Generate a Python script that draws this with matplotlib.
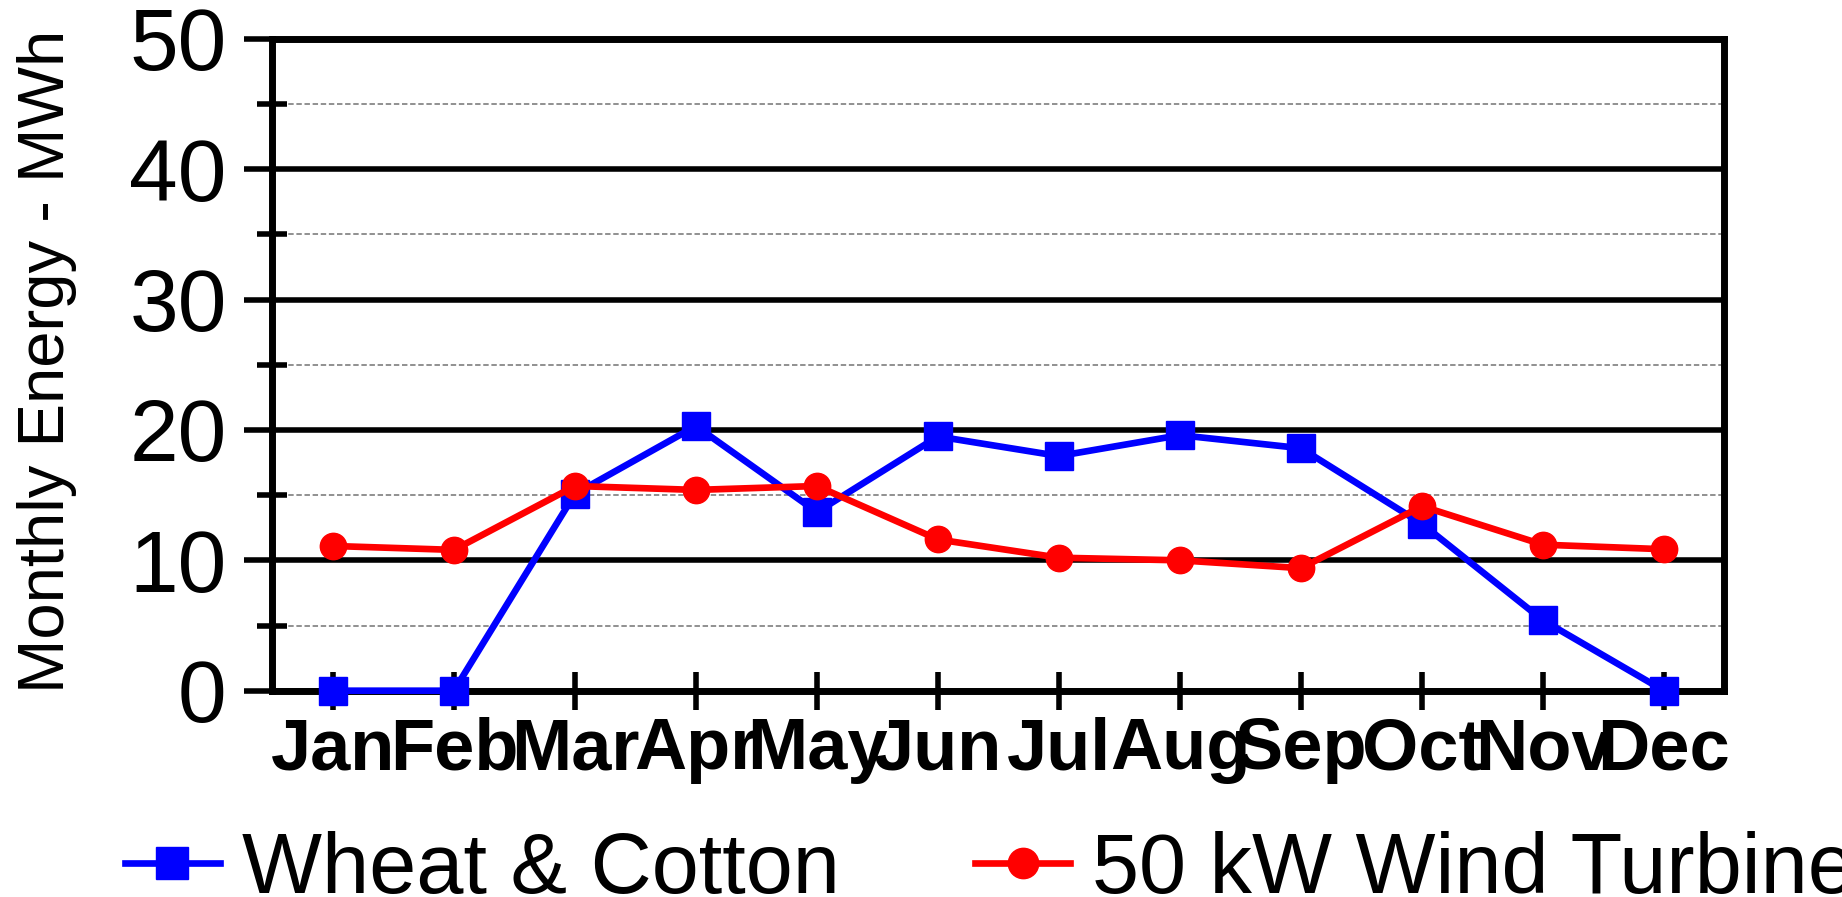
import matplotlib
matplotlib.use("Agg")
import matplotlib.pyplot as plt
from matplotlib.ticker import MultipleLocator

plt.rcParams['font.family'] = ['Liberation Sans', 'DejaVu Sans']

months = ["Jan", "Feb", "Mar", "Apr", "May", "Jun",
          "Jul", "Aug", "Sep", "Oct", "Nov", "Dec"]
wheat_cotton = [0.0, 0.0, 15.1, 20.3, 13.7, 19.5, 18.0, 19.6, 18.6, 12.8, 5.4, 0.0]
wind_turbine = [11.1, 10.8, 15.7, 15.4, 15.7, 11.6, 10.2, 10.0, 9.4, 14.15, 11.2, 10.85]

fig = plt.figure(figsize=(18.42, 8.97), dpi=100)
ax = fig.add_axes([0.1479, 0.23, 0.9362 - 0.1479, 0.9567 - 0.23])

x = list(range(len(months)))
ax.plot(x, wheat_cotton, color="#0000ff", lw=4.8, marker="s", ms=20,
        label="Wheat & Cotton", zorder=6, clip_on=False)
ax.plot(x, wind_turbine, color="#ff0000", lw=4.8, marker="o", ms=19,
        label="50 kW Wind Turbine", zorder=7, clip_on=False)

ax.set_xlim(-0.5, 11.5)
ax.set_ylim(0, 50)
ax.set_xticks(x)
ax.set_xticklabels(months, fontsize=52, fontweight="bold")
ax.yaxis.set_major_locator(MultipleLocator(10))
ax.yaxis.set_minor_locator(MultipleLocator(5))
ax.tick_params(axis="y", which="major", labelsize=63, length=20, width=4,
               direction="out", pad=13)
ax.tick_params(axis="y", which="minor", length=22, width=4, direction="inout")
ax.tick_params(axis="x", which="major", length=27, width=4, direction="inout",
               pad=5)

ax.grid(True, axis="y", which="major", color="black", lw=4, zorder=1)
ax.grid(True, axis="y", which="minor", color="#888888", lw=1.3,
        ls=(0, (3, 1.5)), zorder=1)
ax.set_axisbelow(True)

for side in ["left", "right", "top", "bottom"]:
    ax.spines[side].set_linewidth(5)
    ax.spines[side].set_color("black")
    ax.spines[side].set_zorder(5)

fig.text(0.0255, 0.5975, "Monthly Energy - MWh", rotation=90,
         ha="center", va="center", fontsize=47)

fig.legend(loc="center left", bbox_to_anchor=(125 / 1842, 0.029), ncol=2,
           frameon=False, fontsize=61, handlelength=1.12, handletextpad=0.26,
           columnspacing=1.6, borderpad=0, borderaxespad=0, markerscale=1.15)

fig.savefig("out.png", dpi=100)
